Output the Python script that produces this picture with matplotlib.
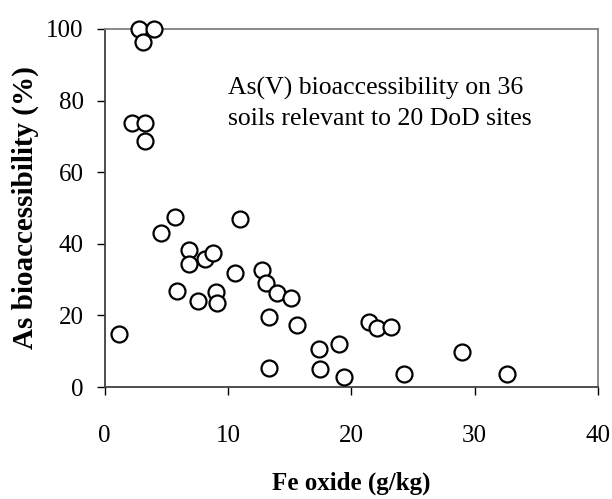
import matplotlib
matplotlib.use("Agg")
import matplotlib.pyplot as plt

# Fe oxide content (g/kg) and As(V) bioaccessibility (%) for the 36 soils
fe_oxide = [2.8, 4.0, 3.1, 2.2, 3.3, 3.3,
            5.7, 4.6, 11.0, 6.8, 6.8, 8.1, 8.8, 10.6, 12.8, 13.1, 14.0,
            5.9, 7.6, 9.0, 9.1, 1.2, 13.3, 13.3,
            15.1, 15.6, 17.4, 17.5, 19.0, 19.4, 21.4, 22.1, 23.2, 24.3, 29.0, 32.6]
bioacc = [100, 100, 96.4, 73.6, 73.6, 68.8,
          47.6, 42.9, 46.9, 38.3, 34.4, 35.8, 37.3, 31.8, 32.7, 29.1, 26.2,
          26.9, 24.1, 26.5, 23.4, 14.7, 19.6, 5.2,
          24.9, 17.3, 10.5, 5.0, 11.9, 2.9, 18.1, 16.6, 16.7, 3.6, 9.9, 3.6]

x_ticks = [0, 10, 20, 30, 40]
y_ticks = [0, 20, 40, 60, 80, 100]

note_lines = ["As(V) bioaccessibility on 36", "soils relevant to 20 DoD sites"]

plt.rcParams["font.family"] = ["Liberation Serif", "DejaVu Serif"]

fig = plt.figure(figsize=(6.12, 4.99), dpi=100)
ax = fig.add_axes([0.171, 0.2244, 0.806, 0.7176])

ax.plot(fe_oxide, bioacc, linestyle="none", marker="o", markersize=11.5,
        markerfacecolor="white", markeredgecolor="black", markeredgewidth=1.6,
        clip_on=False, zorder=3)

ax.set_xlim(0, 40)
ax.set_ylim(0, 100)
ax.set_xticks(x_ticks)
ax.set_yticks(y_ticks)
ax.tick_params(axis="both", direction="out", length=6, width=1, labelsize=18,
               colors="black")
ax.tick_params(axis="x", pad=21)
ax.tick_params(axis="y", pad=9)

for side in ["left", "bottom"]:
    ax.spines[side].set_color("#404040")
    ax.spines[side].set_linewidth(1.3)
for side in ["top", "right"]:
    ax.spines[side].set_color("#808080")
    ax.spines[side].set_linewidth(1.3)

ax.set_xlabel("Fe oxide (g/kg)", fontsize=18, fontweight="bold", labelpad=18)
ax.set_ylabel("As bioaccessibility (%)", fontsize=21, fontweight="bold",
              labelpad=5)

# two-line note inside the plot area
for i, line in enumerate(note_lines):
    ax.text(10.0, 81.6 - 8.4 * i, line, fontsize=18.5, va="baseline", ha="left")

fig.savefig("out.png", dpi=100)
